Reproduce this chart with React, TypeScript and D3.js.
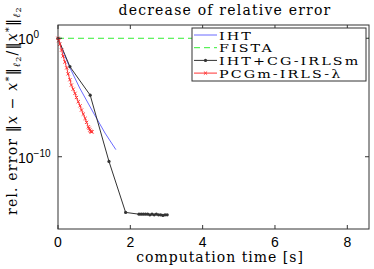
import * as d3 from 'd3';
import React, { useEffect, useRef } from 'react';

// times in seconds, errors as -log10 (decades below 1)
const ihtT = [0, 0.1, 0.3, 0.6, 1.0, 1.3, 1.6];
const ihtDec = [0, 0.8, 2.3, 4.2, 6.4, 8.0, 9.4];

const fistaT = [0, 8.6];
const fistaDec = [0, 0];

const cgT = [0, 0.33, 0.89, 1.41, 1.87, 2.24, 2.3, 2.36, 2.42, 2.48, 2.54, 2.6, 2.66, 2.72, 2.78, 2.84, 2.9, 2.96, 3.02];
const cgDec = [0, 2.4, 4.8, 10.4, 14.7, 14.85, 14.85, 14.85, 14.85, 14.85, 14.9, 14.85, 14.9, 14.85, 14.9, 14.9, 14.95, 14.9, 14.9];

const pcgT = [0, 0.02, 0.05, 0.1, 0.14, 0.19, 0.24, 0.28, 0.33, 0.37, 0.42, 0.47, 0.51, 0.56, 0.61, 0.65, 0.7, 0.75, 0.79, 0.84, 0.86, 0.88, 0.9, 0.92, 0.94];
const pcgDec = [0, 0.2, 0.5, 1.0, 1.5, 2.0, 2.5, 3.0, 3.5, 3.95, 4.3, 4.65, 5.0, 5.35, 5.7, 6.06, 6.4, 6.76, 7.1, 7.47, 7.6, 7.75, 7.85, 7.9, 7.9];

const xTicks = [0, 2, 4, 6, 8];
const yTicks = [0, -10];

const legendNames = ['IHT', 'FISTA', 'IHT+CG-IRLSm', 'PCGm-IRLS-λ'];

const serif = '"DejaVu Serif", serif';
const sans = '"Liberation Sans", Arial, sans-serif';

function App() {
    const ref = useRef<SVGSVGElement>(null);

    useEffect(() => {
        const svg = d3.select(ref.current);
        svg.selectAll('*').remove();

        const left = 58, right = 369, top = 25, bottom = 229;
        const x = d3.scaleLinear().domain([0, 8.6]).range([left, right]);
        const y = d3.scaleLog().domain([Math.pow(10, -16.1), Math.pow(10, 1.12)]).range([bottom, top]);

        const g = svg.append('g');

        const series = [
            { t: ihtT, d: ihtDec, color: '#6b6bff', dash: null, marker: 'none' },
            { t: fistaT, d: fistaDec, color: '#33ee33', dash: '6,4', marker: 'none' },
            { t: cgT, d: cgDec, color: '#333333', dash: null, marker: 'dot' },
            { t: pcgT, d: pcgDec, color: '#ff3333', dash: null, marker: 'x' },
        ];

        const line = d3.line<[number, number]>()
            .x(p => x(p[0]))
            .y(p => y(Math.pow(10, -p[1])));

        series.forEach(s => {
            const pts: [number, number][] = s.t.map((t, i) => [t, s.d[i]]);
            g.append('path')
                .attr('d', line(pts))
                .attr('fill', 'none')
                .attr('stroke', s.color)
                .attr('stroke-width', 1)
                .attr('stroke-dasharray', s.dash);
            if (s.marker === 'dot') {
                g.selectAll(null).data(pts).enter().append('circle')
                    .attr('cx', p => x(p[0]))
                    .attr('cy', p => y(Math.pow(10, -p[1])))
                    .attr('r', 1.6)
                    .attr('fill', s.color);
            } else if (s.marker === 'x') {
                g.selectAll(null).data(pts).enter().append('path')
                    .attr('d', p => {
                        const cx = x(p[0]), cy = y(Math.pow(10, -p[1])), r = 1.6;
                        return `M${cx - r},${cy - r}L${cx + r},${cy + r}M${cx - r},${cy + r}L${cx + r},${cy - r}`;
                    })
                    .attr('stroke', s.color)
                    .attr('stroke-width', 1);
            }
        });

        // frame
        g.append('rect')
            .attr('x', left).attr('y', top)
            .attr('width', right - left).attr('height', bottom - top)
            .attr('fill', 'none').attr('stroke', '#333').attr('stroke-width', 1);

        const tickLen = 4;
        xTicks.forEach(v => {
            g.append('line').attr('x1', x(v)).attr('x2', x(v)).attr('y1', bottom).attr('y2', bottom - tickLen).attr('stroke', '#333');
            g.append('line').attr('x1', x(v)).attr('x2', x(v)).attr('y1', top).attr('y2', top + tickLen).attr('stroke', '#333');
            g.append('text')
                .attr('x', x(v)).attr('y', 247)
                .attr('text-anchor', 'middle')
                .style('font-family', sans).style('font-size', '14px')
                .text(v);
        });

        yTicks.forEach(v => {
            const yy = y(Math.pow(10, v));
            g.append('line').attr('x1', left).attr('x2', left + tickLen).attr('y1', yy).attr('y2', yy).attr('stroke', '#333');
            g.append('line').attr('x1', right).attr('x2', right - tickLen).attr('y1', yy).attr('y2', yy).attr('stroke', '#333');
            const t = g.append('text')
                .attr('x', 18).attr('y', yy + 6)
                .style('font-family', sans).style('font-size', '14px');
            t.append('tspan').text('10');
            t.append('tspan').attr('dy', -6).style('font-size', '10px').text(v === 0 ? '0' : '−10');
        });

        // legend
        const lg = g.append('g');
        lg.append('rect')
            .attr('x', 192).attr('y', 28).attr('width', 174).attr('height', 53)
            .attr('fill', 'white').attr('stroke', '#333').attr('stroke-width', 1);
        legendNames.forEach((name, i) => {
            const s = series[i];
            const ly = 35 + i * 12.7;
            lg.append('line')
                .attr('x1', 194).attr('x2', 217).attr('y1', ly).attr('y2', ly)
                .attr('stroke', s.color).attr('stroke-dasharray', s.dash);
            if (s.marker === 'dot') {
                lg.append('circle').attr('cx', 205.5).attr('cy', ly).attr('r', 1.6).attr('fill', s.color);
            } else if (s.marker === 'x') {
                const r = 1.6;
                lg.append('path')
                    .attr('d', `M${205.5 - r},${ly - r}L${205.5 + r},${ly + r}M${205.5 - r},${ly + r}L${205.5 + r},${ly - r}`)
                    .attr('stroke', s.color);
            }
            lg.append('text')
                .attr('transform', `translate(219,${ly + 4.5}) scale(1.3,1)`)
                .style('font-family', serif).style('font-size', '11px')
                .style('letter-spacing', '1.6px')
                .text(name);
        });

        // title
        svg.append('text')
            .attr('x', 225).attr('y', 15)
            .attr('text-anchor', 'middle')
            .style('font-family', serif).style('font-size', '14px')
            .style('letter-spacing', '1.2px')
            .text('decrease of relative error');

        svg.append('text')
            .attr('x', 220).attr('y', 262)
            .attr('text-anchor', 'middle')
            .style('font-family', serif).style('font-size', '14px')
            .style('letter-spacing', '1px')
            .text('computation time [s]');

        const yl = svg.append('text')
            .attr('transform', 'translate(17,215) rotate(-90)')
            .style('font-family', serif).style('font-size', '14px')
            .style('letter-spacing', '1.2px');
        yl.append('tspan').text('rel. error ‖');
        yl.append('tspan').style('font-style', 'italic').text('x');
        yl.append('tspan').text(' − ');
        yl.append('tspan').style('font-style', 'italic').text('x');
        yl.append('tspan').attr('dy', -5).style('font-size', '10px').text('*');
        yl.append('tspan').attr('dy', 5).text('‖');
        yl.append('tspan').attr('dy', 3).style('font-size', '10px').style('font-style', 'italic').text('ℓ');
        yl.append('tspan').attr('dy', 1).style('font-size', '8px').text('2');
        yl.append('tspan').attr('dy', -4).text('/‖');
        yl.append('tspan').style('font-style', 'italic').text('x');
        yl.append('tspan').attr('dy', -5).style('font-size', '10px').text('*');
        yl.append('tspan').attr('dy', 5).text('‖');
        yl.append('tspan').attr('dy', 3).style('font-size', '10px').style('font-style', 'italic').text('ℓ');
        yl.append('tspan').attr('dy', 1).style('font-size', '8px').text('2');
    }, []);

    return (
        <svg ref={ref} width={374} height={269} style={{ position: 'absolute', left: 0, top: 0, background: 'white' }}></svg>
    );
}

export default App;
